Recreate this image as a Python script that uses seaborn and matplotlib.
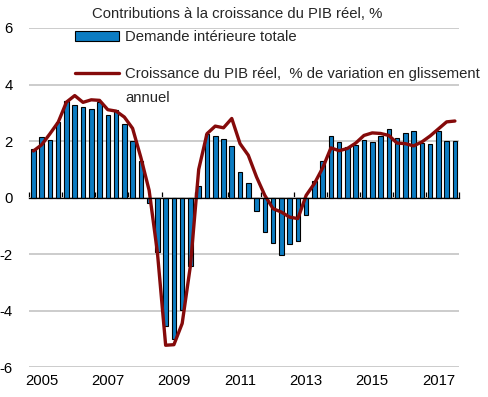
import matplotlib
matplotlib.use("Agg")
import matplotlib.pyplot as plt
import numpy as np
import pandas as pd
import seaborn as sns
from matplotlib.patches import Patch
from matplotlib.lines import Line2D

years = list(range(2005, 2018))
quarters = [f"{y}Q{q}" for y in years for q in range(1, 5)]

demand = [1.73, 2.15, 2.05, 2.69, 3.42, 3.29, 3.22, 3.15, 3.38, 2.91, 3.09, 2.62,
          2.00, 1.28, -0.19, -1.92, -4.55, -4.99, -3.99, -2.40,
          0.42, 2.26, 2.17, 2.06, 1.84, 0.90, 0.53, -0.46,
          -1.20, -1.59, -2.02, -1.63, -1.53, -0.60, 0.58, 1.28,
          2.19, 1.96, 1.79, 1.87, 2.05, 1.96, 2.17, 2.44,
          2.12, 2.28, 2.34, 1.95, 1.91, 2.37, 2.02, 2.02]
gdp = [1.65, 1.87, 2.26, 2.67, 3.38, 3.61, 3.37, 3.46, 3.44, 3.11, 3.06, 2.85,
       2.45, 1.42, 0.26, -1.93, -5.22, -5.20, -4.45, -2.40,
       1.00, 2.26, 2.53, 2.47, 2.80, 1.91, 1.50, 0.73,
       0.08, -0.39, -0.51, -0.69, -0.74, 0.08, 0.50, 1.05,
       1.76, 1.66, 1.74, 1.93, 2.20, 2.29, 2.27, 2.20,
       1.93, 1.91, 1.83, 1.97, 2.18, 2.43, 2.68, 2.71]

year_labels = ["2005", "2007", "2009", "2011", "2013", "2015", "2017"]
y_ticks = [-6, -4, -2, 0, 2, 4, 6]

title = "Contributions à la croissance du PIB réel, %"
label_bar = "Demande intérieure totale"
label_line = "Croissance du PIB réel,  % de variation en glissement"
label_line2 = "annuel"

blue = "#0C7CC2"
red = "#850A0A"
grid = "#C8C8C8"

sns.set_theme(style="white")
plt.rcParams["font.family"] = ["Liberation Sans", "DejaVu Sans"]
fs = 10.7

df = pd.DataFrame({"quarter": quarters, "demand": demand, "gdp": gdp})
df["pos"] = np.arange(len(df))

fig = plt.figure(figsize=(4.89, 3.97), dpi=100)
ax = fig.add_axes([0.0599, 0.0748, 0.8788, 0.8547])

sns.barplot(data=df, x="quarter", y="demand", color=blue, saturation=1,
            edgecolor="black", linewidth=0.8, width=0.55, ax=ax, zorder=2)
sns.lineplot(data=df, x="pos", y="gdp", color=red, linewidth=2.4, ax=ax,
             zorder=3, solid_joinstyle="round", solid_capstyle="round")

ax.set_xlim(-0.5, len(quarters) - 0.5)
ax.set_ylim(-6, 6)
ax.set_xlabel("")
ax.set_ylabel("")

ax.set_yticks(y_ticks)
ax.set_yticklabels([str(v) for v in y_ticks], fontsize=fs, color="black")
ax.tick_params(axis="y", length=0, pad=12)
ax.yaxis.grid(True, color=grid, linewidth=1.3)
ax.xaxis.grid(False)
ax.set_axisbelow(True)

for s in ["left", "right", "top"]:
    ax.spines[s].set_visible(False)
ax.spines["bottom"].set_position(("data", 0))
ax.spines["bottom"].set_color("black")
ax.spines["bottom"].set_linewidth(0.9)
ax.spines["bottom"].set_zorder(4)

ax.set_xticks(np.arange(-0.5, len(quarters), 4))
ax.tick_params(axis="x", direction="in", length=4, width=0.9, color="black",
               labelbottom=False, bottom=True)

sec = ax.secondary_xaxis(0.0)
sec.set_xticks(np.arange(1, len(quarters), 8))
sec.set_xticklabels(year_labels, fontsize=fs, color="black")
sec.tick_params(length=0, pad=5)
sec.spines["bottom"].set_visible(False)

handles = [Patch(facecolor=blue, edgecolor="black", linewidth=0.8),
           Line2D([], [], color=red, linewidth=2.4)]
fig.legend(handles, [label_bar, label_line], loc="upper left",
           bbox_to_anchor=(75 / 489, 1 - 30 / 397), frameon=False,
           fontsize=fs, handlelength=2.95, handleheight=0.7,
           handletextpad=0.4, labelspacing=1.55, borderpad=0, borderaxespad=0)
fig.text(125 / 489, 1 - 98 / 397, label_line2, fontsize=fs, va="center", ha="left")
fig.text(92 / 489, 1 - 13.5 / 397, title, fontsize=fs, va="center", ha="left")

fig.savefig("out.png", dpi=100)
